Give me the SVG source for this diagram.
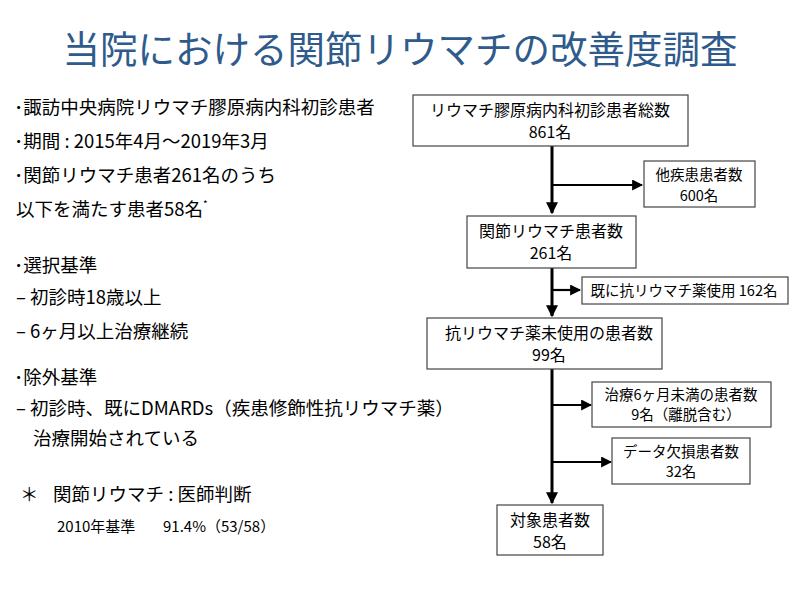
<svg xmlns="http://www.w3.org/2000/svg" width="800" height="600" viewBox="0 0 800 600">
<defs>
<style>
text{font-family:"Noto Sans CJK JP","Noto Sans",sans-serif;fill:#000}
.title{font-size:37.5px;fill:#2F5B8C}
.left{font-size:18.5px}
.small{font-size:15px}
.box rect{fill:#fff;stroke:#444;stroke-width:1.2}
.box text{text-anchor:middle}
.main text{font-size:16px}
.sub text{font-size:14.5px}
.conn line{stroke:#000}
.trunk{stroke-width:3}
.branch{stroke-width:2.2}
</style>
<marker id="ah" viewBox="0 0 10 10" refX="9" refY="5" markerWidth="4" markerHeight="4" markerUnits="strokeWidth" orient="auto">
<path d="M0,0 L10,5 L0,10 z" fill="#000"/>
</marker>
<marker id="ah2" viewBox="0 0 10 10" refX="9" refY="5" markerWidth="5" markerHeight="5" markerUnits="strokeWidth" orient="auto">
<path d="M0,0 L10,5 L0,10 z" fill="#000"/>
</marker>
</defs>
<rect width="800" height="600" fill="#fff"/>
<text class="title" x="400" y="63" text-anchor="middle">当院における関節リウマチの改善度調査</text>

<g id="left-text">
<text class="left" x="14" y="114">･諏訪中央病院リウマチ膠原病内科初診患者</text>
<text class="left" x="14" y="148">･期間 : 2015年4月～2019年3月</text>
<text class="left" x="14" y="182">･関節リウマチ患者261名のうち</text>
<text class="left" x="16" y="216">以下を満たす患者58名<tspan font-size="10" dy="-8">*</tspan></text>
<text class="left" x="14" y="272">･選択基準</text>
<text class="left" x="16" y="304">– 初診時18歳以上</text>
<text class="left" x="16" y="338">– 6ヶ月以上治療継続</text>
<text class="left" x="14" y="384">･除外基準</text>
<text class="left" x="16" y="415">– 初診時、既にDMARDs（疾患修飾性抗リウマチ薬）</text>
<text class="left" x="33" y="445">治療開始されている</text>
<text class="left" x="20" y="501">＊</text>
<text class="left" x="53" y="501">関節リウマチ : 医師判断</text>
<text class="small" x="57" y="532">2010年基準</text>
<text class="small" x="163" y="532">91.4%（53/58）</text>
</g>

<g id="connectors" class="conn">
<line class="trunk" x1="552" y1="146" x2="552" y2="213" marker-end="url(#ah)"/>
<line class="trunk" x1="552" y1="268" x2="552" y2="316" marker-end="url(#ah)"/>
<line class="trunk" x1="552" y1="369" x2="552" y2="503" marker-end="url(#ah)"/>
<line class="branch" x1="552" y1="185" x2="642" y2="185" marker-end="url(#ah2)"/>
<line class="branch" x1="552" y1="290" x2="580" y2="290" marker-end="url(#ah2)"/>
<line class="branch" x1="552" y1="405" x2="591" y2="405" marker-end="url(#ah2)"/>
<line class="branch" x1="552" y1="462" x2="611" y2="462" marker-end="url(#ah2)"/>
</g>

<g id="n1" class="box main">
<rect x="413" y="95" width="275" height="51"/>
<text x="550" y="116">リウマチ膠原病内科初診患者総数</text>
<text x="550" y="138">861名</text>
</g>
<g id="n2" class="box sub">
<rect x="644" y="161" width="111" height="46"/>
<text x="699" y="180">他疾患患者数</text>
<text x="699" y="201">600名</text>
</g>
<g id="n3" class="box main">
<rect x="467" y="216" width="169" height="52"/>
<text x="551" y="237">関節リウマチ患者数</text>
<text x="551" y="259">261名</text>
</g>
<g id="n4" class="box sub">
<rect x="582" y="277" width="206" height="27"/>
<text x="684" y="296">既に抗リウマチ薬使用 162名</text>
</g>
<g id="n5" class="box main">
<rect x="427" y="318" width="235" height="51"/>
<text x="549" y="339">抗リウマチ薬未使用の患者数</text>
<text x="549" y="361">99名</text>
</g>
<g id="n6" class="box sub">
<rect x="592" y="382" width="179" height="45"/>
<text x="681" y="400">治療6ヶ月未満の患者数</text>
<text x="686" y="420">9名（離脱含む）</text>
</g>
<g id="n7" class="box sub">
<rect x="612" y="438" width="138" height="46"/>
<text x="681" y="457">データ欠損患者数</text>
<text x="681" y="477">32名</text>
</g>
<g id="n8" class="box main">
<rect x="497" y="505" width="106" height="50"/>
<text x="550" y="526">対象患者数</text>
<text x="550" y="548">58名</text>
</g>
</svg>
